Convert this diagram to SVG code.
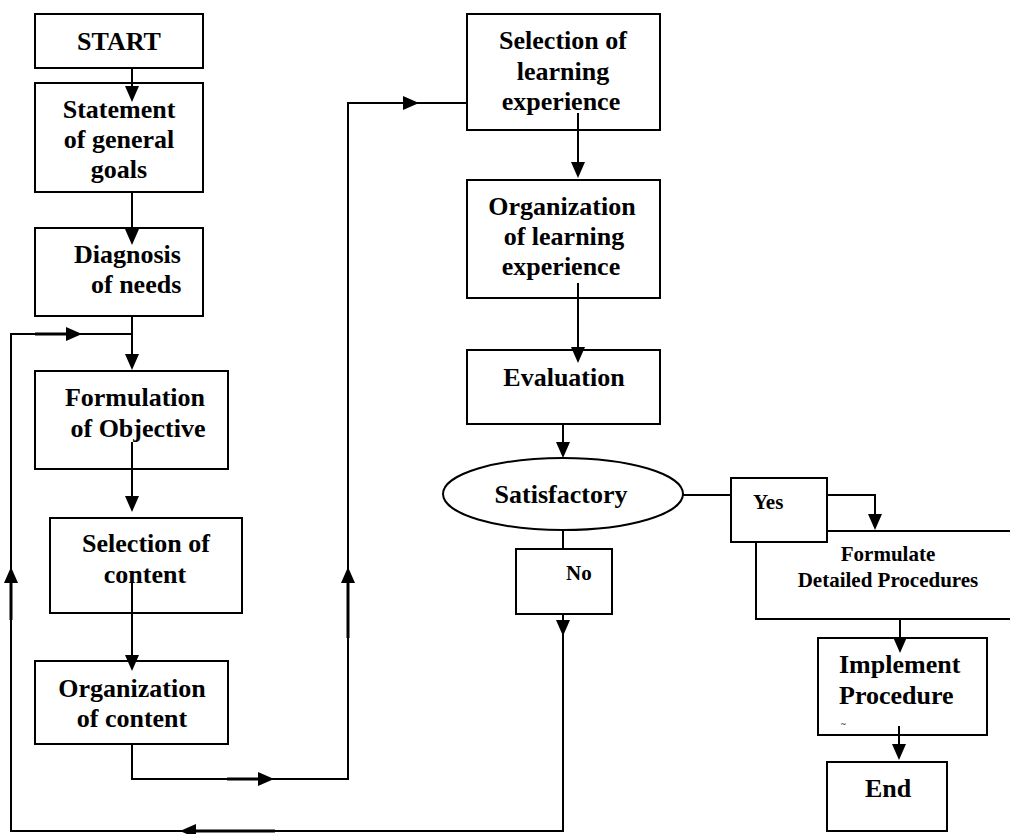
<svg xmlns="http://www.w3.org/2000/svg" width="1010" height="834" viewBox="0 0 1010 834">
  <style>
    .box { fill: #fff; stroke: #000; stroke-width: 2; }
    .line { fill: none; stroke: #000; stroke-width: 2; }
    .thick { fill: none; stroke: #000; stroke-width: 3; }
    .head { fill: #000; stroke: none; }
    text { font-family: "Liberation Serif", "Times New Roman", serif; font-weight: bold; fill: #000; }
    .big { font-size: 26px; }
    .mid { font-size: 21px; }
    .c { text-anchor: middle; }
  </style>
  <rect width="1010" height="834" fill="#fff"/>

  <!-- left column -->
  <g id="start">
    <rect class="box" x="35" y="14" width="168" height="54"/>
    <text class="big c" x="119" y="50">START</text>
  </g>
  <g id="statement">
    <rect class="box" x="35" y="83" width="168" height="109"/>
    <text class="big c" x="119" y="118">Statement</text>
    <text class="big c" x="119" y="148">of general</text>
    <text class="big c" x="119" y="178">goals</text>
  </g>
  <g id="diagnosis">
    <rect class="box" x="35" y="228" width="168" height="88"/>
    <text class="big" x="74" y="263">Diagnosis</text>
    <text class="big" x="91" y="293">of needs</text>
  </g>
  <g id="formulation">
    <rect class="box" x="35" y="371" width="193" height="98"/>
    <text class="big c" x="135" y="406">Formulation</text>
    <text class="big c" x="138" y="437">of Objective</text>
  </g>
  <g id="selection-content">
    <rect class="box" x="50" y="518" width="192" height="95"/>
    <text class="big c" x="146" y="552">Selection of</text>
    <text class="big c" x="145" y="583">content</text>
  </g>
  <g id="organization-content">
    <rect class="box" x="35" y="661" width="193" height="83"/>
    <text class="big c" x="132" y="697">Organization</text>
    <text class="big c" x="132" y="727">of content</text>
  </g>

  <!-- right column -->
  <g id="selection-learning">
    <rect class="box" x="467" y="14" width="193" height="116"/>
    <text class="big c" x="563" y="49">Selection of</text>
    <text class="big c" x="563" y="80">learning</text>
    <text class="big c" x="561" y="110">experience</text>
  </g>
  <g id="organization-learning">
    <rect class="box" x="467" y="180" width="193" height="118"/>
    <text class="big c" x="562" y="215">Organization</text>
    <text class="big c" x="564" y="245">of learning</text>
    <text class="big c" x="561" y="275">experience</text>
  </g>
  <g id="evaluation">
    <rect class="box" x="467" y="350" width="193" height="74"/>
    <text class="big c" x="564" y="386">Evaluation</text>
  </g>
  <g id="satisfactory">
    <ellipse class="box" cx="563" cy="494" rx="120" ry="36"/>
    <text class="big c" x="561" y="503">Satisfactory</text>
  </g>
  <g id="no">
    <rect class="box" x="516" y="549" width="96" height="65"/>
    <text class="mid" x="566" y="580">No</text>
  </g>
  <g id="formulate">
    <rect class="box" x="756" y="531" width="300" height="88"/>
    <text class="mid c" x="888" y="561">Formulate</text>
    <text class="mid c" x="888" y="587">Detailed Procedures</text>
  </g>
  <g id="yes">
    <rect class="box" x="731" y="478" width="96" height="64"/>
    <text class="mid" x="753" y="509">Yes</text>
  </g>
  <g id="implement">
    <rect class="box" x="818" y="638" width="169" height="97"/>
    <text class="big" x="839" y="673">Implement</text>
    <text class="big" x="839" y="704">Procedure</text>
    <text x="841" y="727" font-size="9">~</text>
  </g>
  <g id="end">
    <rect class="box" x="827" y="762" width="120" height="69"/>
    <text class="big" x="865" y="797">End</text>
  </g>

  <!-- connectors -->
  <g id="connectors">
    <!-- main left column flow -->
    <path class="line" d="M132 68V88"/>
    <polygon class="head" points="125,86 139,86 132,102"/>
    <path class="line" d="M132 192V231"/>
    <polygon class="head" points="125,229 139,229 132,245"/>
    <path class="line" d="M132 317V356"/>
    <polygon class="head" points="125,354 139,354 132,370"/>
    <path class="line" d="M132 442V498"/>
    <polygon class="head" points="125,496 139,496 132,512"/>
    <path class="line" d="M132 583V657"/>
    <polygon class="head" points="125,655 139,655 132,671"/>

    <!-- organization of content to selection of learning experience -->
    <path class="line" d="M132 744V779H348V103H467"/>
    <path class="thick" d="M227 779H262"/>
    <polygon class="head" points="258,772 258,786 274,779"/>
    <path class="thick" d="M348 638V581"/>
    <polygon class="head" points="341,583 355,583 348,567"/>
    <polygon class="head" points="403,96 403,110 419,103"/>

    <!-- right column flow -->
    <path class="line" d="M578 113V164"/>
    <polygon class="head" points="571,162 585,162 578,178"/>
    <path class="line" d="M578 283V349"/>
    <polygon class="head" points="571,347 585,347 578,363"/>
    <path class="line" d="M563 424V444"/>
    <polygon class="head" points="556,442 570,442 563,458"/>
    <path class="line" d="M563 530V549"/>

    <!-- yes branch -->
    <path class="line" d="M683 495H731"/>
    <path class="line" d="M827 495H875V516"/>
    <polygon class="head" points="868,514 882,514 875,530"/>
    <path class="line" d="M900 619V639"/>
    <polygon class="head" points="893,637 907,637 900,653"/>
    <path class="line" d="M899 726V746"/>
    <polygon class="head" points="892,744 906,744 899,760"/>

    <!-- no branch back to formulation of objective -->
    <path class="line" d="M563 614V831H11V334H132"/>
    <polygon class="head" points="556,620 570,620 563,636"/>
    <path class="thick" d="M196 831H275"/>
    <polygon class="head" points="196,824 196,838 180,831"/>
    <path class="thick" d="M11 620V581"/>
    <polygon class="head" points="4,583 18,583 11,567"/>
    <path class="thick" d="M35 334H70"/>
    <polygon class="head" points="66,327 66,341 82,334"/>
  </g>
</svg>
